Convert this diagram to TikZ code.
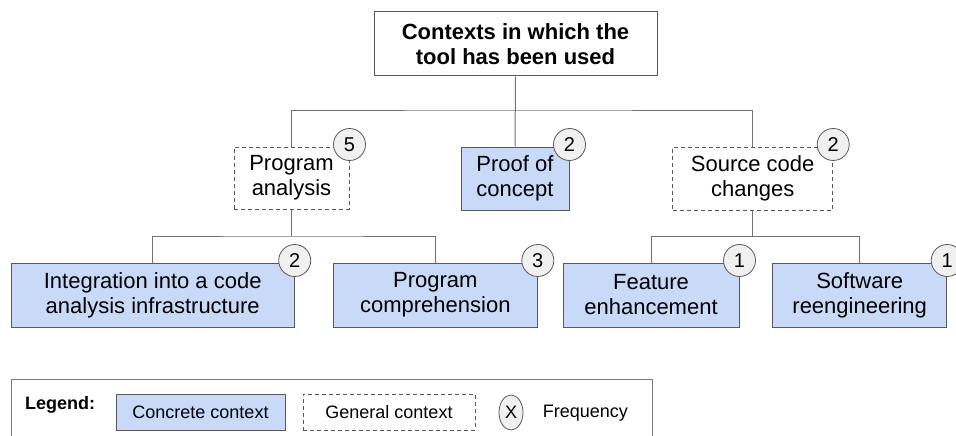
\documentclass[tikz,border=0pt]{standalone}
\usepackage{fontspec}
\setmainfont{Liberation Sans}
\usepackage{tikz}
\usetikzlibrary{positioning, shapes}
\definecolor{conceptblue}{HTML}{C9DAF8}
\definecolor{boxgray}{gray}{0.35}
\definecolor{linegray}{gray}{0.45}
\definecolor{badgegray}{gray}{0.94}

\begin{document}
\begin{tikzpicture}[x=1pt, y=-1pt,
	ctx/.style={draw=boxgray, line width=1pt, align=center, inner sep=0pt, font=\fontsize{22}{25}\selectfont},
	concrete/.style={ctx, fill=conceptblue},
	general/.style={ctx, dash pattern=on 4pt off 3pt, fill=white},
	badge/.style={circle, draw=boxgray, line width=0.8pt, fill=badgegray, minimum size=32pt, inner sep=0pt, font=\fontsize{20}{20}\selectfont},
	link/.style={draw=linegray, line width=1pt},
	legendtext/.style={inner sep=0pt, font=\fontsize{18}{20}\selectfont}]

\useasboundingbox (0,0) rectangle (956,436);

\def \bh{64}
% \def \bh{58} % smaller boxes

% tree
\node[ctx, font=\fontsize{22}{25}\selectfont\bfseries, minimum width=283, minimum height=\bh] (top) at (515.5, 44) {Contexts in which the\\tool has been used};

\node[general,  minimum width=115, minimum height=62]  (pa)    at (291.5, 178)   {Program\\analysis};
\node[concrete, minimum width=108, minimum height=63]  (proof) at (515,   178.5) {Proof of\\concept};
\node[general,  minimum width=160, minimum height=63]  (scc)   at (752.7, 178.5) {Source code\\changes};

\node[concrete, minimum width=283, minimum height=\bh] (integ) at (152.7, 295) {Integration into a code\\analysis infrastructure};
\node[concrete, minimum width=204, minimum height=\bh] (comp)  at (435.3, 295) {Program\\comprehension};
\node[concrete, minimum width=176, minimum height=\bh] (feat)  at (651,   295) {Feature\\enhancement};
\node[concrete, minimum width=174, minimum height=\bh] (soft)  at (859.7, 295) {Software\\reengineering};

\coordinate (top fork) at (515, 110);
\coordinate (pa fork)  at (291.5, 236);
\coordinate (scc fork) at (752.7, 236.5);

\draw[link] (top.south) -- (proof.north); % middle branch
\draw[link] (pa.north) |- (top fork) -| (scc.north);
\draw[link] (pa.south) -- (pa fork);
\draw[link] (integ.north) |- (pa fork) -| (comp.north);
\draw[link] (scc.south) -- (scc fork);
\draw[link] (feat.north) |- (scc fork) -| (soft.north);

\foreach \n/\f in {pa/5, proof/2, scc/2, integ/2, comp/3, feat/1, soft/1} {
	\node[badge] (\n-freq) at ([yshift=2pt]\n.north east) {\f}; % frequency
}

% legend
\draw[draw=boxgray!80, line width=1pt] (11, 379.5) rectangle (652, 460);
\node[legendtext, font=\fontsize{18}{20}\selectfont\bfseries, anchor=base west] (legend) at (25, 409) {Legend:};
\node[concrete, font=\fontsize{18}{20}\selectfont, minimum width=169, minimum height=36] (leg concrete) at (200.5, 412) {Concrete context};
\node[general,  font=\fontsize{18}{20}\selectfont, minimum width=172, minimum height=36] (leg general)  at (389, 412)   {General context};
\node[ellipse, draw=boxgray, line width=0.8pt, fill=badgegray, minimum width=24, minimum height=35, inner sep=0pt, font=\fontsize{18}{20}\selectfont] (leg freq) at (511, 412.5) {X};
\node[legendtext, anchor=base west] (leg freq text) at (542.7, 417.5) {Frequency};

\end{tikzpicture}
\end{document}
